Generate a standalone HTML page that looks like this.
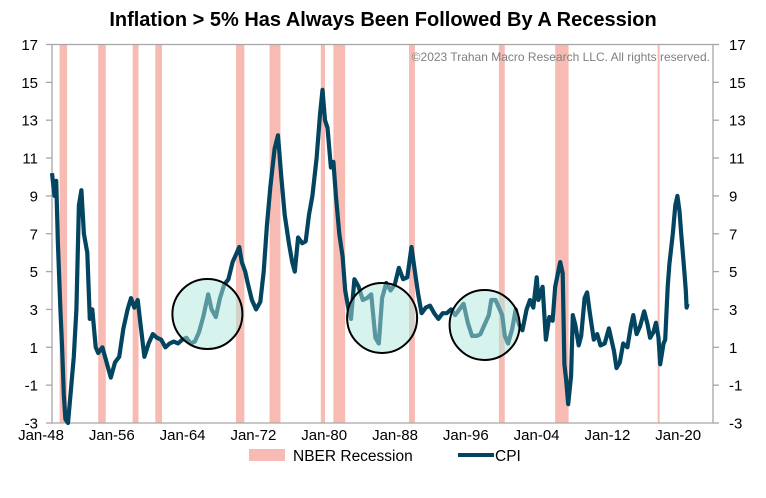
<!DOCTYPE html>
<html><head><meta charset="utf-8"><style>
body{margin:0;background:#fff;}
svg{display:block;font-family:"Liberation Sans",Arial,sans-serif;}
</style></head><body>
<svg id="chart" width="766" height="498" viewBox="0 0 766 498">
<text x="383" y="26" text-anchor="middle" font-size="20" font-weight="bold" fill="#000">Inflation &gt; 5% Has Always Been Followed By A Recession</text>
<g id="rec"></g>
<g id="axes"></g>
<g id="series"></g>
<g id="circles"></g>
<text x="710" y="61" text-anchor="end" font-size="12" fill="#7f7f7f">©2023 Trahan Macro Research LLC. All rights reserved.</text>
<g>
<rect x="249" y="449" width="36" height="12" fill="#f8bbb3"/>
<text x="293" y="461" font-size="15.5" fill="#000">NBER Recession</text>
<line x1="458" y1="455" x2="494" y2="455" stroke="#034560" stroke-width="4"/>
<text x="495" y="461" font-size="15.5" fill="#000">CPI</text>
</g>
</svg>
<script>
const recStart=[1948.9,1953.5,1957.6,1960.3,1969.9,1973.9,1980.0,1981.5,1990.5,2001.2,2007.9,2020.1];
const recEnd=[1949.8,1954.4,1958.3,1961.1,1970.9,1975.2,1980.5,1982.9,1991.2,2001.9,2009.5,2020.3];
const cpiYears=[1948.0,1948.3,1948.5,1948.7,1949.0,1949.2,1949.4,1949.6,1949.9,1950.2,1950.6,1950.9,1951.2,1951.5,1951.8,1952.2,1952.5,1952.8,1953.2,1953.5,1954.0,1954.5,1955.0,1955.5,1956.0,1956.5,1957.0,1957.4,1957.8,1958.2,1958.6,1959.0,1959.5,1960.0,1960.5,1961.0,1961.5,1962.0,1962.5,1963.0,1963.5,1964.0,1964.5,1965.0,1965.5,1966.0,1966.6,1967.0,1967.5,1968.0,1968.5,1969.0,1969.5,1970.0,1970.3,1970.6,1971.0,1971.3,1971.8,1972.3,1972.8,1973.2,1973.6,1974.0,1974.5,1974.9,1975.3,1975.7,1976.2,1976.6,1976.9,1977.3,1977.8,1978.2,1978.6,1979.0,1979.5,1979.9,1980.2,1980.5,1980.8,1981.2,1981.5,1981.8,1982.2,1982.6,1982.9,1983.3,1983.6,1984.0,1984.5,1985.0,1985.5,1986.0,1986.5,1986.9,1987.3,1987.8,1988.3,1988.8,1989.3,1989.8,1990.3,1990.8,1991.2,1991.6,1992.0,1992.5,1993.0,1993.5,1994.0,1994.5,1995.0,1995.5,1996.0,1996.5,1997.0,1997.5,1998.0,1998.6,1999.0,1999.5,2000.0,2000.3,2000.8,2001.2,2001.6,2001.9,2002.3,2002.8,2003.2,2003.6,2004.0,2004.5,2004.9,2005.3,2005.7,2005.9,2006.4,2006.8,2007.2,2007.6,2007.9,2008.5,2008.8,2009.0,2009.2,2009.45,2009.8,2010.0,2010.3,2010.7,2011.0,2011.4,2011.7,2012.0,2012.5,2012.9,2013.3,2013.8,2014.3,2014.9,2015.2,2015.6,2016.0,2016.5,2016.9,2017.2,2017.6,2018.0,2018.5,2018.9,2019.2,2019.6,2019.9,2020.2,2020.4,2020.8,2021.0,2021.3,2021.5,2021.9,2022.2,2022.45,2022.7,2022.9,2023.1,2023.3,2023.45,2023.55,2023.65];
const cpiValues=[10.2,9.0,9.8,6.5,3.0,1.0,-1.5,-2.8,-3.0,-1.5,0.5,3.0,8.5,9.3,7.0,6.0,2.5,3.0,1.0,0.7,1.0,0.2,-0.6,0.2,0.5,2.0,3.0,3.6,3.1,3.5,2.0,0.5,1.2,1.7,1.5,1.4,1.0,1.2,1.3,1.2,1.4,1.5,1.2,1.3,1.8,2.6,3.8,3.0,2.6,3.6,4.3,4.6,5.5,6.0,6.3,5.5,5.0,4.4,3.5,3.0,3.4,5.0,7.5,9.5,11.5,12.2,10.0,8.0,6.5,5.5,5.0,6.8,6.5,6.6,8.0,9.0,11.0,13.3,14.6,13.0,12.6,10.5,10.8,9.0,7.0,5.8,4.0,3.0,2.5,4.6,4.2,3.5,3.6,3.8,1.5,1.2,3.6,4.4,4.0,4.3,5.2,4.6,4.7,6.3,5.0,3.8,2.8,3.1,3.2,2.8,2.5,2.8,2.8,3.0,2.7,3.0,3.3,2.3,1.6,1.6,1.7,2.2,2.7,3.5,3.5,3.1,2.7,1.6,1.2,2.0,3.0,2.2,1.9,3.0,3.5,3.1,4.7,3.5,4.2,1.4,2.6,2.4,4.2,5.5,4.9,0.1,-0.7,-2.0,-0.5,2.7,2.2,1.1,1.6,3.6,3.9,2.9,1.4,1.7,1.1,1.2,2.0,0.8,-0.1,0.2,1.2,1.0,2.1,2.7,1.7,2.1,2.9,2.2,1.5,1.8,2.3,1.5,0.1,1.2,1.4,4.2,5.4,7.0,8.5,9.0,8.2,7.0,6.0,4.9,4.0,3.1,3.3];
const yTicks=[-3,-1,1,3,5,7,9,11,13,15,17];
const xLabels=["Jan-48","Jan-56","Jan-64","Jan-72","Jan-80","Jan-88","Jan-96","Jan-04","Jan-12","Jan-20"];
const circYear=[1966.5,1987.3,1999.5];
const circVal=[2.76,2.55,2.18];

const NS="http://www.w3.org/2000/svg";
const L=52,R=713,T=44.5,B=423;
const xs=y=>L+(y-1948)*8.4;
const ys=v=>T+(17-v)*(B-T)/20;
const xl=i=>41+i*70.8;
function mk(tag,attrs,parent){const e=document.createElementNS(NS,tag);for(const k in attrs)e.setAttribute(k,attrs[k]);parent.appendChild(e);return e;}

const rec=document.getElementById('rec');
recStart.forEach((s,i)=>{
  const r=mk('rect',{x:xs(s),y:T,width:Math.max(2,xs(recEnd[i])-xs(s)),height:B-T,fill:'#f8bbb3'},rec);
  
  
});

const ax=document.getElementById('axes');
const frame=mk('path',{d:`M${L},${T}H${R}M${L},${T}V${B}H${R}V${T}`,stroke:'#a6a6a6','stroke-width':1.3,fill:'none'},ax);


yTicks.forEach(v=>{
  const y=ys(v);
  mk('line',{x1:L-6,x2:L,y1:y,y2:y,stroke:'#a6a6a6','stroke-width':1.3},ax);
  mk('line',{x1:R,x2:R+6,y1:y,y2:y,stroke:'#a6a6a6','stroke-width':1.3},ax);
  const t1=mk('text',{x:38,y:y+5.5,'text-anchor':'end','font-size':15,fill:'#000'},ax);t1.textContent=v;
  
  
  const t2=mk('text',{x:729,y:y+5.5,'text-anchor':'start','font-size':15,fill:'#000'},ax);t2.textContent=v;
  
  
});
xLabels.forEach((s,i)=>{
  const t=mk('text',{x:xl(i),y:440,'text-anchor':'middle','font-size':15,fill:'#000'},ax);t.textContent=s;
  
  
});

const ser=document.getElementById('series');
const d=cpiYears.map((y,i)=>(i?'L':'M')+xs(y).toFixed(1)+','+ys(cpiValues[i]).toFixed(1)).join('');
const p=mk('path',{d:d,fill:'none',stroke:'#034560','stroke-width':4.2,'stroke-linejoin':'round'},ser);



const cg=document.getElementById('circles');
circYear.forEach((y,i)=>{
  const c=mk('circle',{cx:xs(y),cy:ys(circVal[i]),r:35,fill:'rgba(175,232,222,0.5)',stroke:'#000','stroke-width':2},cg);
  
  
});
</script>
</body></html>
